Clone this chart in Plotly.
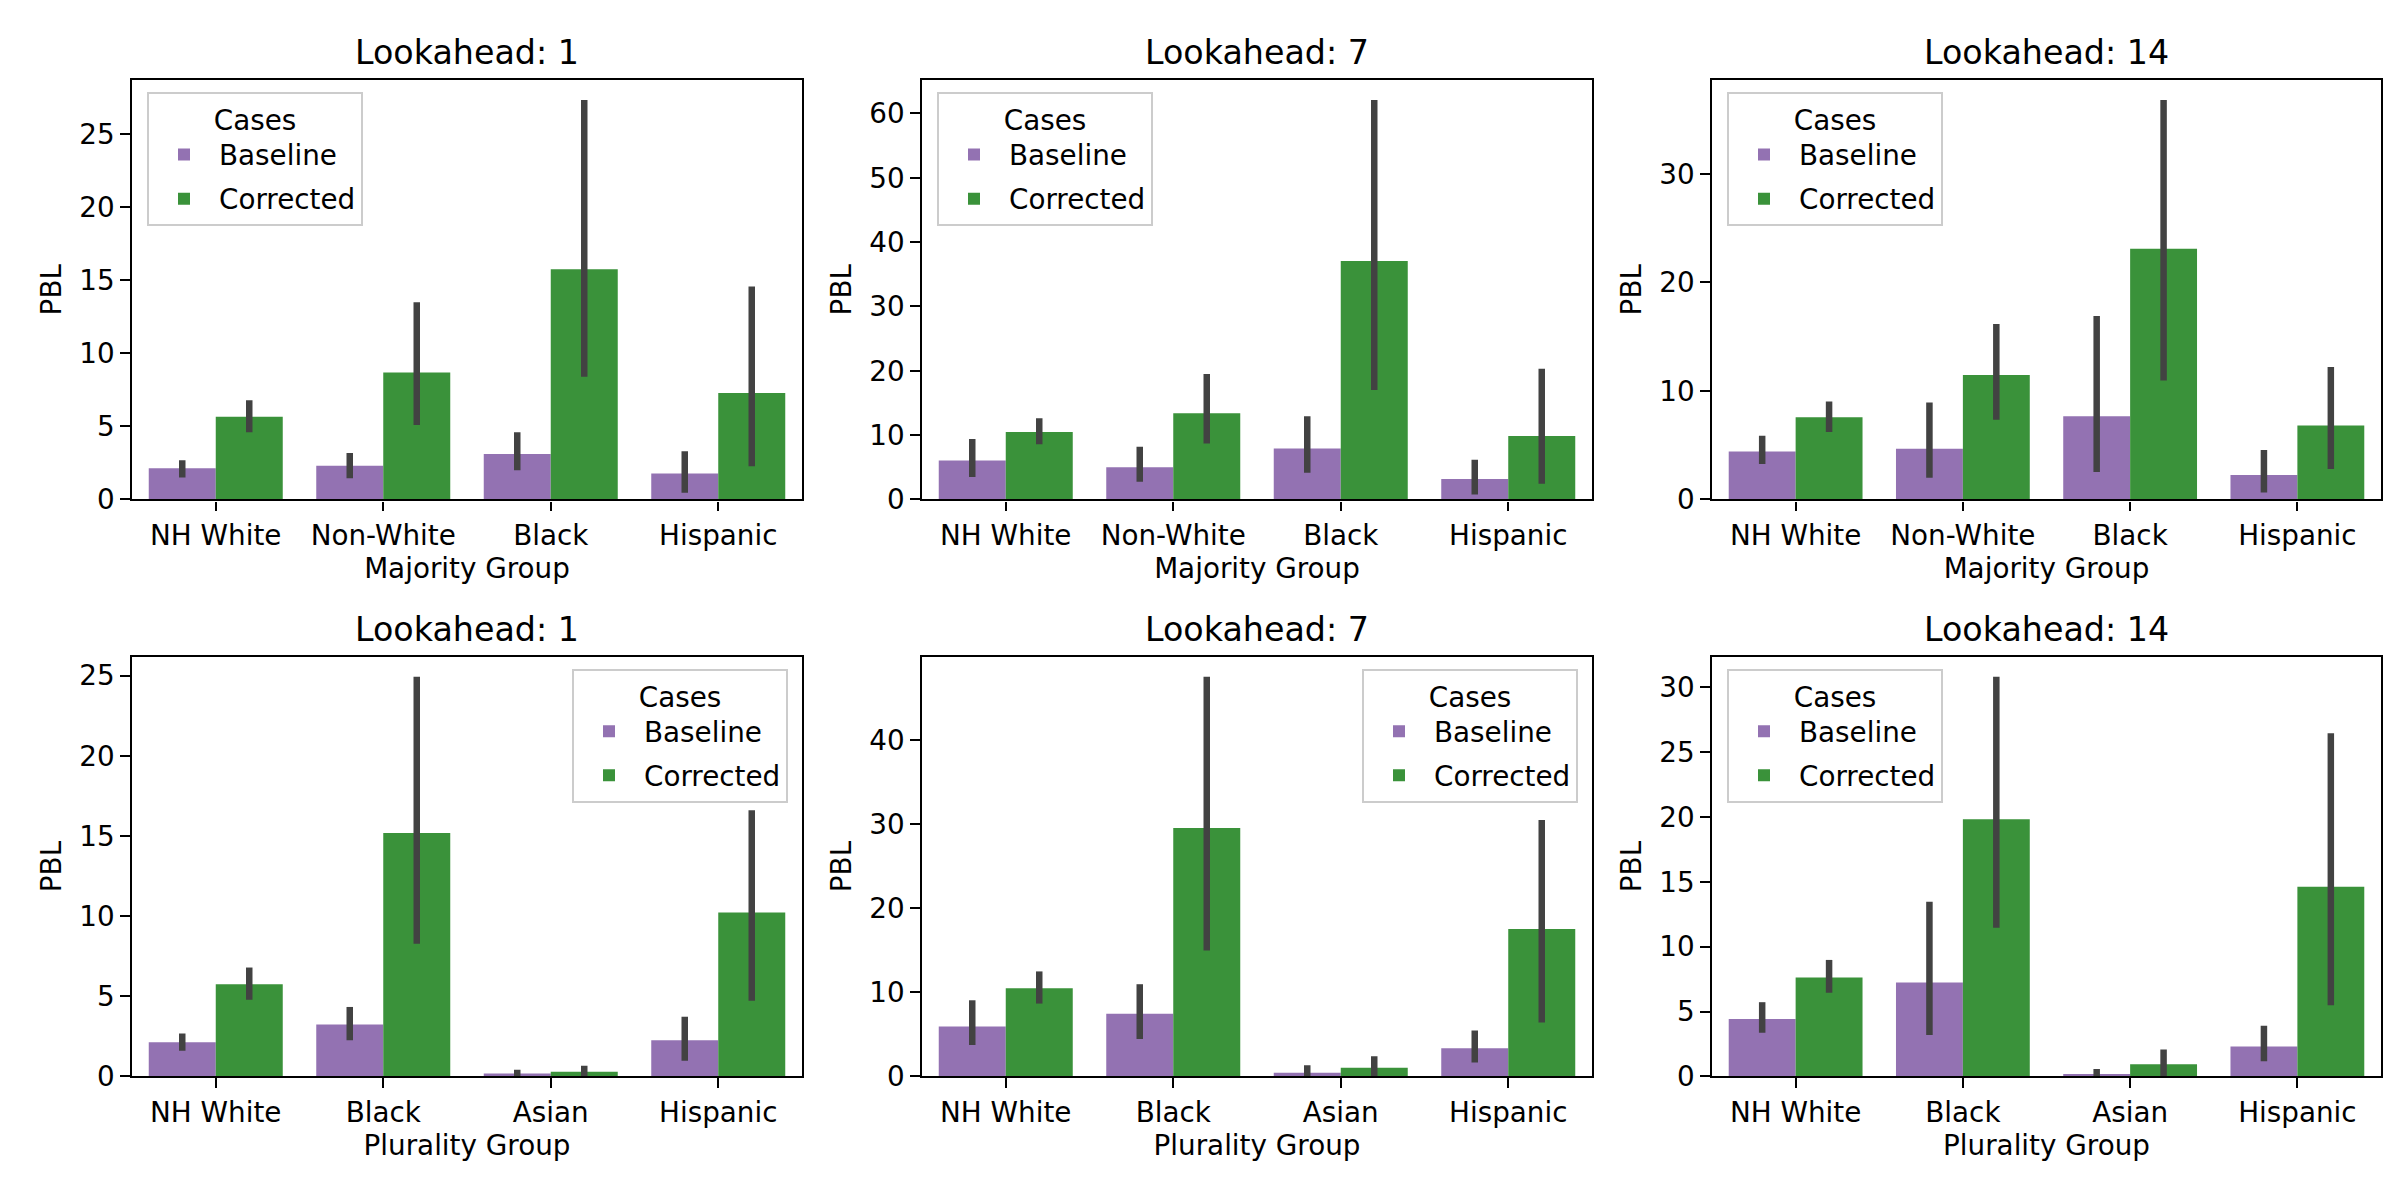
import plotly.graph_objects as go

W, H = 2400, 1200

lookaheads = [1, 7, 14]
majority_groups = ["NH White", "Non-White", "Black", "Hispanic"]
plurality_groups = ["NH White", "Black", "Asian", "Hispanic"]
case_names = ["Baseline", "Corrected"]

# majority group, mean PBL with 95% CI (lo, hi)
maj_l1_base = [2.13, 2.31, 3.12, 1.77]
maj_l1_base_lo = [1.50, 1.45, 2.00, 0.45]
maj_l1_base_hi = [2.69, 3.18, 4.60, 3.30]
maj_l1_corr = [5.67, 8.70, 15.77, 7.29]
maj_l1_corr_lo = [4.60, 5.09, 8.41, 2.28]
maj_l1_corr_hi = [6.80, 13.50, 27.36, 14.58]

maj_l7_base = [6.07, 5.00, 7.90, 3.16]
maj_l7_base_lo = [3.47, 2.75, 4.13, 0.76]
maj_l7_base_hi = [9.38, 8.20, 12.94, 6.17]
maj_l7_corr = [10.50, 13.40, 37.08, 9.88]
maj_l7_corr_lo = [8.56, 8.71, 17.00, 2.45]
maj_l7_corr_hi = [12.64, 19.50, 62.10, 20.30]

maj_l14_base = [4.41, 4.68, 7.66, 2.24]
maj_l14_base_lo = [3.26, 2.00, 2.53, 0.63]
maj_l14_base_hi = [5.86, 8.93, 16.90, 4.56]
maj_l14_corr = [7.57, 11.46, 23.10, 6.82]
maj_l14_corr_lo = [6.22, 7.35, 10.95, 2.81]
maj_l14_corr_hi = [9.02, 16.17, 36.80, 12.19]

# plurality group
plu_l1_base = [2.13, 3.23, 0.17, 2.25]
plu_l1_base_lo = [1.60, 2.25, 0.00, 0.98]
plu_l1_base_hi = [2.68, 4.33, 0.41, 3.72]
plu_l1_corr = [5.74, 15.19, 0.29, 10.22]
plu_l1_corr_lo = [4.78, 8.28, 0.00, 4.72]
plu_l1_corr_hi = [6.79, 24.94, 0.66, 16.60]

plu_l7_base = [5.92, 7.45, 0.43, 3.35]
plu_l7_base_lo = [3.74, 4.44, 0.00, 1.64]
plu_l7_base_hi = [9.04, 10.95, 1.33, 5.46]
plu_l7_corr = [10.48, 29.50, 1.01, 17.50]
plu_l7_corr_lo = [8.65, 14.97, 0.00, 6.39]
plu_l7_corr_hi = [12.47, 47.50, 2.38, 30.47]

plu_l14_base = [4.43, 7.24, 0.18, 2.31]
plu_l14_base_lo = [3.37, 3.19, 0.00, 1.17]
plu_l14_base_hi = [5.72, 13.46, 0.56, 3.90]
plu_l14_corr = [7.62, 19.83, 0.94, 14.62]
plu_l14_corr_lo = [6.45, 11.46, 0.00, 5.49]
plu_l14_corr_hi = [8.98, 30.83, 2.08, 26.46]

panels = [
    (majority_groups, "Majority Group", 1,
     [(maj_l1_base, maj_l1_base_lo, maj_l1_base_hi), (maj_l1_corr, maj_l1_corr_lo, maj_l1_corr_hi)]),
    (majority_groups, "Majority Group", 7,
     [(maj_l7_base, maj_l7_base_lo, maj_l7_base_hi), (maj_l7_corr, maj_l7_corr_lo, maj_l7_corr_hi)]),
    (majority_groups, "Majority Group", 14,
     [(maj_l14_base, maj_l14_base_lo, maj_l14_base_hi), (maj_l14_corr, maj_l14_corr_lo, maj_l14_corr_hi)]),
    (plurality_groups, "Plurality Group", 1,
     [(plu_l1_base, plu_l1_base_lo, plu_l1_base_hi), (plu_l1_corr, plu_l1_corr_lo, plu_l1_corr_hi)]),
    (plurality_groups, "Plurality Group", 7,
     [(plu_l7_base, plu_l7_base_lo, plu_l7_base_hi), (plu_l7_corr, plu_l7_corr_lo, plu_l7_corr_hi)]),
    (plurality_groups, "Plurality Group", 14,
     [(plu_l14_base, plu_l14_base_lo, plu_l14_base_hi), (plu_l14_corr, plu_l14_corr_lo, plu_l14_corr_hi)]),
]

colors = ["#9372b2", "#3a923a"]
y_dticks = [5, 10, 10, 5, 10, 5]
legend_side = ["left", "left", "left", "right", "right", "left"]

# axes boxes in pixels (left, right) and (top, bottom)
x_px = [(124, 794), (914, 1584), (1704, 2373)]
y_px = [(73, 498.5), (658, 1083.7)]

FONT = "DejaVu Sans"
fs = 27.8
tfs = 33.3

fig = go.Figure()
layout = dict(
    width=W, height=H,
    margin=dict(l=0, r=0, t=0, b=0),
    paper_bgcolor="white", plot_bgcolor="white",
    font=dict(family=FONT, size=fs, color="black"),
    barmode="group", bargap=0.2, bargroupgap=0,
    showlegend=True,
    annotations=[],
)

for i, (cats, xlabel, la, series) in enumerate(panels):
    row, col = divmod(i, 3)
    n = "" if i == 0 else str(i + 1)
    xa, ya = "x" + n, "y" + n
    leg = "legend" + n
    x0, x1 = x_px[col][0] / W, x_px[col][1] / W
    y0, y1 = 1 - y_px[row][1] / H, 1 - y_px[row][0] / H

    top = 0
    for name, color, (m, lo, hi) in zip(case_names, colors, series):
        top = max(top, max(hi))
        fig.add_trace(go.Bar(
            x=cats, y=m, name=name, marker=dict(color=color, line=dict(width=0)),
            error_y=dict(type="data", symmetric=False,
                         array=[h - v for h, v in zip(hi, m)],
                         arrayminus=[v - l for v, l in zip(m, lo)],
                         width=0, thickness=6.5, color="#424242"),
            xaxis=xa, yaxis=ya, legend=leg, legendgroup=f"{name}{i}",
        ))

    axis_common = dict(showline=True, mirror=True, linecolor="black", linewidth=2.2,
                       ticks="outside", ticklen=9.7, tickwidth=2.2, tickcolor="black",
                       showgrid=False, zeroline=False,
                       tickfont=dict(family=FONT, size=fs, color="black"))
    layout["xaxis" + n] = dict(axis_common, domain=[x0, x1], anchor=ya,
                               type="category", range=[-0.5, 3.5],
                               title=dict(text=xlabel, font=dict(size=fs), standoff=8))
    layout["yaxis" + n] = dict(axis_common, domain=[y0, y1], anchor=xa,
                               range=[0, top * 1.05], dtick=y_dticks[i],
                               title=dict(text="PBL", font=dict(size=fs), standoff=10))

    if legend_side[i] == "left":
        lx, xanchor = x0 + 15 / W, "left"
    else:
        lx, xanchor = x1 - 14 / W, "right"
    layout[leg] = dict(
        x=lx, y=y1 - 12 / H, xanchor=xanchor, yanchor="top",
        xref="paper", yref="paper",
        bgcolor="rgba(255,255,255,0.8)", bordercolor="#cccccc", borderwidth=2,
        font=dict(family=FONT, size=fs, color="black"),
        title=dict(text="Cases", side="top center", font=dict(size=fs)),
        itemwidth=60, traceorder="grouped", tracegroupgap=5,
    )

    layout["annotations"].append(dict(
        text=f"Lookahead: {la}", x=(x0 + x1) / 2, y=y1, xref="paper", yref="paper",
        xanchor="center", yanchor="bottom", yshift=6, showarrow=False,
        font=dict(family=FONT, size=tfs, color="black"),
    ))

fig.update_layout(**layout)
fig.write_html("out.html")
